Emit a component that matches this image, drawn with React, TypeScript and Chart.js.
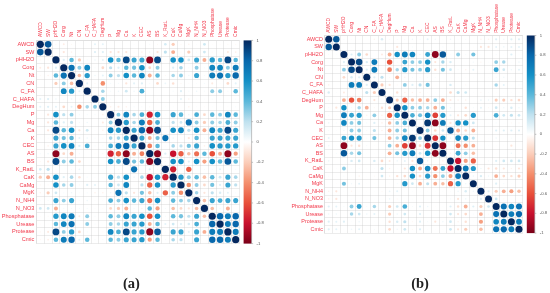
import React, { useEffect, useRef } from "react";
import { Chart, registerables } from "chart.js";

Chart.register(...registerables);

const variables = ["AWCD","SW","pHH2O","Corg","Nt","CN","C_FA","C_HAFA","DegHum","P","Mg","Ca","K","CEC","AS","BS","K_RatL","CaK","CaMg","MgK","N_NH4","N_NO3","Phosphatase","Urease","Protease","Cmic"];
const colorbarTicks = [1,0.8,0.6,0.4,0.2,0,-0.2,-0.4,-0.6,-0.8,-1];

// Upper triangle of each correlation matrix; every row starts at its diagonal.
const upperA = [
[1,.85,-.03,-.07,-.03,0,0,.08,.08,0,0,0,.02,0,.03,-.03,.13,-.2,-.03,-.05,.02,.15,-.02,-.02,-.03,-.03],
[1,-.03,-.1,-.05,0,0,.1,.1,-.1,-.1,-.1,.03,-.05,.05,-.1,.2,-.3,-.03,-.2,.03,.15,-.03,-.02,-.08,-.06],
[1,.1,.4,-.2,.03,.05,.08,.6,.4,.9,.5,.5,-.95,.9,.02,.6,.6,.15,.5,-.3,.55,.4,.9,.4],
[1,.75,.3,.65,.03,-.15,.2,.1,.4,.35,.6,-.15,.3,0,.1,.25,.03,.3,.03,.65,.65,.3,.7],
[1,-.25,.55,.05,.08,.3,.2,.6,.4,.65,-.3,.4,-.03,.25,.3,.05,.5,.03,.7,.75,.55,.8],
[1,.08,-.03,-.4,.03,.03,-.1,.08,.1,.03,-.15,.06,-.12,-.03,-.02,.02,.03,-.08,.02,-.15,.08],
[1,0,.25,.03,.05,.15,.05,.45,0,0,0,.03,.1,.03,.05,.03,.3,.3,.03,.4],
[1,.3,.03,0,.02,.03,.03,-.02,-.02,0,.02,.08,-.05,.02,.02,.03,.03,.02,.03],
[1,-.05,-.08,-.05,.03,.03,-.03,0,.02,.02,0,-.05,.02,-.02,.02,.02,-.02,.03],
[1,.3,.65,.25,.45,-.75,.6,-.02,.5,.4,.05,.45,-.15,.4,.3,.65,.4],
[1,.55,.25,.7,-.55,.45,-.03,.2,.15,.75,.3,-.2,.3,.25,.45,.3],
[1,.5,.8,-.95,.9,0,.6,.65,.2,.6,-.3,.65,.5,.9,.5],
[1,.5,-.3,.35,.75,.05,-.02,-.1,.4,.03,.5,.5,.5,.5],
[1,-.45,.4,.02,.25,.2,.35,.5,-.05,.6,.55,.55,.55],
[1,-.95,.1,-.8,-.55,-.25,-.5,.4,-.6,-.3,-.95,-.35],
[1,-.03,.6,.6,.1,.6,-.35,.6,.4,.85,.4],
[1,-.75,-.03,-.55,0,.03,.03,.08,.02,.03],
[1,.55,.3,.4,-.25,.4,.15,.5,.25],
[1,-.4,.3,-.15,.35,.1,.5,.2],
[1,.25,-.1,.2,.12,.08,.03],
[1,-.25,.5,.45,.5,.5],
[1,-.25,.04,-.3,0],
[1,.8,.7,.8],
[1,.7,.8],
[1,.7],
[1],
];

const upperB = [
[1,.85,.03,.02,.02,0,-.05,.12,-.03,.03,.03,.05,.03,.08,.05,.02,.05,.02,.03,0,-.05,-.05,.1,.05,.1,.1],
[1,.02,.02,.02,0,0,.02,-.02,-.1,.02,.03,.02,.02,.02,.03,0,.02,.02,-.02,-.1,-.1,.08,.05,.08,.08],
[1,.1,.3,-.15,0,-.08,-.3,.6,.7,.65,.05,.5,-.95,.85,.02,.3,.03,.35,.02,0,.03,.02,.1,.02],
[1,.9,.12,.7,0,-.6,.03,.5,.3,.3,.6,-.1,.25,.12,.02,.02,.04,-.04,.02,.3,.25,.02,.05],
[1,.1,.7,.02,-.45,.25,.55,.35,.3,.55,-.12,.35,.15,.03,-.05,.08,.02,.02,.5,.15,.05,.08],
[1,.1,.2,-.03,-.3,-.05,.03,.03,.03,.03,.02,.02,.02,.02,.02,.02,.02,.03,.05,.02,.02],
[1,-.2,-.1,-.03,.3,.1,.2,.35,.02,.02,.12,.02,-.03,.02,.02,.02,.25,.08,.02,.03],
[1,.02,-.12,-.05,-.05,-.05,-.02,.02,.02,-.15,.2,.15,.02,-.03,.02,-.02,.02,.02,.02],
[1,-.2,-.55,-.25,-.3,-.3,.3,-.3,-.08,-.05,-.05,.02,.06,.05,-.2,-.2,-.12,-.15],
[1,.6,.3,.3,.25,-.3,.35,.05,.02,-.12,.03,.08,-.03,.15,.05,.12,.05],
[1,.45,.35,.65,-.65,.55,.08,-.1,-.15,.55,.02,.02,.45,.15,.2,.15],
[1,-.03,.95,-.95,.7,-.1,.6,.6,.15,.02,.02,.03,.02,-.03,-.03],
[1,.3,-.15,.15,.85,-.3,-.15,-.3,.02,.02,.1,.1,.1,.1],
[1,-.7,.6,.05,.65,.55,.2,.02,.02,.05,.02,.03,.02],
[1,-.95,.02,-.5,-.4,-.3,.02,.02,-.02,.02,-.1,.02],
[1,-.05,.5,.3,-.25,.02,.02,.02,.02,.05,.02],
[1,-.8,-.35,-.55,.02,.03,.1,.15,.15,.15],
[1,.7,.55,.05,-.1,-.12,-.1,-.05,-.1],
[1,.05,.12,.05,-.3,-.15,-.12,-.2],
[1,.05,.03,.1,.03,.02,.02],
[1,.1,-.2,-.3,-.35,-.25],
[1,.15,-.03,.02,.02],
[1,.75,.65,.75],
[1,.7,.8],
[1,.7],
[1],
];

const rampStops = ["#7a0018","#c8102e","#e8503a","#f48f6d","#fbcdb9","#ffffff","#bfe1ef","#5bb8da","#1490c6","#0868ac","#04285f"];
const labelRed = "#f2384a";

function hexToRgb(h: string) {
  return [parseInt(h.slice(1, 3), 16), parseInt(h.slice(3, 5), 16), parseInt(h.slice(5, 7), 16)];
}
function colorFor(v: number) {
  const t = ((v + 1) / 2) * (rampStops.length - 1);
  const i = Math.min(Math.floor(t), rampStops.length - 2);
  const f = t - i;
  const a = hexToRgb(rampStops[i]);
  const b = hexToRgb(rampStops[i + 1]);
  return `rgb(${a.map((c, k) => Math.round(c + (b[k] - c) * f)).join(",")})`;
}

function buildPoints(upper: number[][], maxRadius: number) {
  const pts: { x: string; y: string; r: number; v: number }[] = [];
  upper.forEach((row, i) => {
    row.forEach((v, k) => {
      const j = i + k;
      const r = maxRadius * Math.sqrt(Math.abs(v));
      pts.push({ x: variables[j], y: variables[i], r, v });
      if (j !== i) pts.push({ x: variables[i], y: variables[j], r, v });
    });
  });
  return pts;
}

type Panel = { left: number; top: number; bottom: number; right: number; maxRadius: number; labelShift: number; leftFont: number; topPad: number; upper: number[][] };

function makeChart(canvas: HTMLCanvasElement, p: Panel) {
  const colorbar = {
    id: "colorbar",
    afterDraw(chart: any) {
      const s = chart.scales.cb;
      const ctx = chart.ctx;
      const x0 = s.left + 4;
      const w = 8;
      const g = ctx.createLinearGradient(0, s.top, 0, s.bottom);
      rampStops.forEach((c, i) => g.addColorStop(1 - i / (rampStops.length - 1), c));
      ctx.save();
      ctx.fillStyle = g;
      ctx.fillRect(x0, s.top, w, s.bottom - s.top);
      ctx.strokeStyle = "#9a9a9a";
      ctx.lineWidth = 0.6;
      ctx.beginPath();
      ctx.moveTo(x0 + w, s.top);
      ctx.lineTo(x0 + w, s.bottom);
      colorbarTicks.forEach((v) => {
        const y = s.getPixelForValue(v);
        ctx.moveTo(x0 + w, y);
        ctx.lineTo(x0 + w + 1.5, y);
      });
      ctx.stroke();
      ctx.restore();
    },
  };
  const points = buildPoints(p.upper, p.maxRadius);
  const gridCfg = { color: "rgba(200,200,200,0.5)", lineWidth: 0.7, offset: true, drawTicks: false };
  const borderCfg = { display: true, color: "rgba(200,200,200,0.5)", width: 0.7 };
  const sans = "'Liberation Sans', Arial, sans-serif";
  return new Chart(canvas, {
    type: "bubble",
    data: {
      datasets: [
        {
          data: points,
          backgroundColor: points.map((d) => colorFor(d.v)),
          borderWidth: 0,
          clip: false,
        } as any,
      ],
    },
    options: {
      animation: false,
      responsive: false,
      events: [],
      layout: { padding: { left: 0, top: 0, right: 0, bottom: p.bottom } },
      plugins: { legend: { display: false }, tooltip: { enabled: false } },
      scales: {
        x: {
          type: "category",
          labels: variables,
          position: "top",
          offset: true,
          grid: gridCfg,
          border: borderCfg,
          ticks: { autoSkip: false, minRotation: 90, maxRotation: 90, labelOffset: p.labelShift, color: labelRed, font: { family: sans, size: 4.9 }, padding: p.topPad },
          afterFit: (s: any) => { s.height = p.top; },
        },
        y: {
          type: "category",
          labels: variables,
          position: "left",
          offset: true,
          grid: gridCfg,
          border: borderCfg,
          ticks: { autoSkip: false, color: labelRed, font: { family: sans, size: p.leftFont }, padding: 2 },
          afterFit: (s: any) => { s.width = p.left; },
        },
        cb: {
          type: "linear",
          position: "right",
          min: -1,
          max: 1,
          grid: { display: false, drawTicks: false },
          border: { display: false },
          ticks: {
            stepSize: 0.2,
            color: "#555555",
            font: { family: sans, size: 4.2 },
            padding: 17,
            callback: (v: any) => String(Math.round(Number(v) * 10) / 10),
          },
          afterFit: (s: any) => { s.width = p.right; },
        },
      } as any,
    },
    plugins: [colorbar],
  } as any);
}

const panelA: Panel = { left: 36.4, top: 40.4, bottom: 49.4, right: 35.4, maxRadius: 3.6, labelShift: 6, leftFont: 5.6, topPad: 3.5, upper: upperA };
const panelB: Panel = { left: 49.9, top: 35.5, bottom: 59.9, right: 27.2, maxRadius: 3.5, labelShift: 6, leftFont: 5.4, topPad: 2.8, upper: upperB };

export default function App() {
  const a = useRef<HTMLCanvasElement>(null);
  const b = useRef<HTMLCanvasElement>(null);
  useEffect(() => {
    const ca = makeChart(a.current!, panelA);
    const cb = makeChart(b.current!, panelB);
    return () => { ca.destroy(); cb.destroy(); };
  }, []);
  const canvasStyle = (left: number): React.CSSProperties => ({
    position: "fixed", left, top: 0, width: 275, height: 293, filter: "blur(0.4px)",
  });
  const captionStyle = (x: number): React.CSSProperties => ({
    position: "fixed", left: x - 30, width: 60, top: 275, textAlign: "center",
    font: "bold 14.5px 'Liberation Serif', serif", color: "#222",
  });
  return (
    <div style={{ position: "fixed", inset: 0, background: "#fff" }}>
      <canvas ref={a} width={275} height={293} style={canvasStyle(0)} />
      <canvas ref={b} width={275} height={293} style={canvasStyle(275)} />
      <div style={captionStyle(131.5)}>(a)</div>
      <div style={captionStyle(420)}>(b)</div>
    </div>
  );
}
